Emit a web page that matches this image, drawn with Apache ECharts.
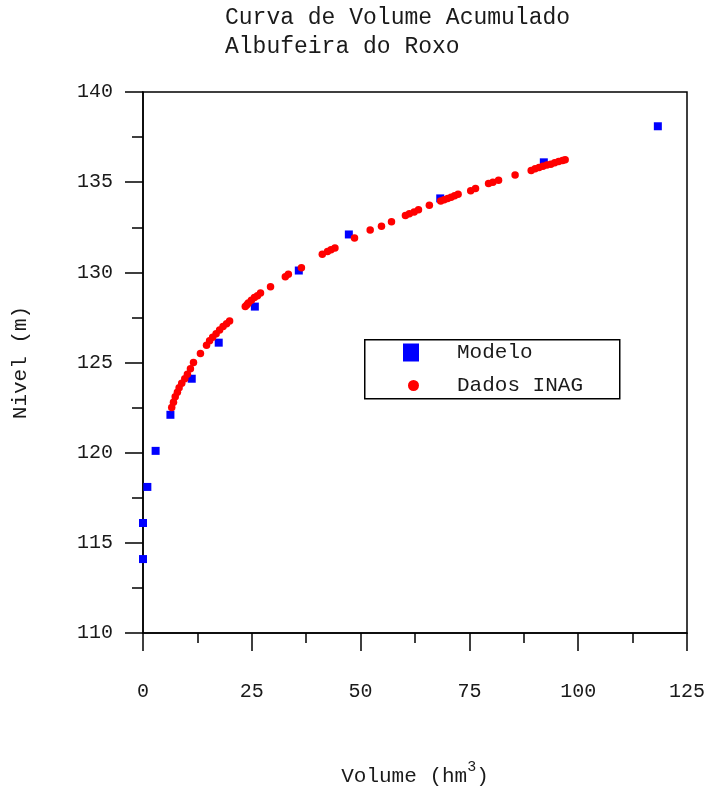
<!DOCTYPE html>
<html>
<head>
<meta charset="utf-8">
<script src="https://cdn.jsdelivr.net/npm/echarts@6/dist/echarts.min.js"></script>
<style>
html,body{margin:0;padding:0;background:#fff;}
#c{width:711px;height:792px;}
</style>
</head>
<body>
<div id="c"></div>
<script>
const titleLines = ['Curva de Volume Acumulado', 'Albufeira do Roxo'];
const xTicks = [0, 25, 50, 75, 100, 125];
const yTicks = [110, 115, 120, 125, 130, 135, 140];

const modeloVolume = [0, 0, 1.0, 2.9, 6.3, 11.2, 17.4, 25.7, 35.8, 47.3, 68.3, 92.1, 118.3];
const modeloNivel  = [114.1, 116.1, 118.1, 120.1, 122.1, 124.1, 126.1, 128.1, 130.1, 132.1, 134.1, 136.1, 138.1];

const inagVolume = [6.6, 7.0, 7.4, 7.9, 8.3, 8.9, 9.6, 10.2, 10.9, 11.6, 13.2, 14.6, 15.3, 16.0, 16.8, 17.6, 18.4, 19.2, 19.9,
  23.5, 23.9, 24.2, 24.9, 25.6, 26.3, 27.0, 29.3, 32.7, 33.4, 36.4, 41.2, 42.4, 43.2, 44.1, 48.6, 52.2, 54.8, 57.1,
  60.3, 61.2, 62.3, 63.3, 65.8, 68.4, 69.2, 70.0, 70.8, 71.6, 72.4, 75.3, 76.4, 79.4, 80.4, 81.7, 85.5,
  89.2, 90.1, 91.0, 91.9, 92.8, 93.7, 94.6, 95.5, 96.4, 97.0];
const inagNivel = [122.5, 122.8, 123.1, 123.35, 123.6, 123.85, 124.1, 124.35, 124.65, 125.0, 125.5, 125.95, 126.2, 126.4, 126.6, 126.8, 127.0, 127.15, 127.3,
  128.1, 128.2, 128.3, 128.45, 128.6, 128.7, 128.85, 129.2, 129.75, 129.9, 130.25, 131.0, 131.15, 131.25, 131.35, 131.9, 132.35, 132.55, 132.8,
  133.15, 133.25, 133.35, 133.47, 133.72, 133.95, 134.02, 134.1, 134.17, 134.25, 134.33, 134.53, 134.65, 134.92, 135.0, 135.1, 135.4,
  135.65, 135.74, 135.82, 135.88, 135.95, 136.0, 136.08, 136.14, 136.2, 136.25];

const seriesNames = ['Modelo', 'Dados INAG'];
const xName = 'Volume (hm{s|3})';
const yName = 'Nivel (m)';

const FONT = 'Liberation Mono';
const TXT = '#1a1a1a';

const chart = echarts.init(document.getElementById('c'), null, {renderer: 'canvas'});
chart.setOption({
  backgroundColor: '#fff',
  animation: false,
  title: {
    text: titleLines.join('\n'),
    left: 225, top: 3, padding: 0,
    textStyle: {fontFamily: FONT, fontSize: 23, fontWeight: 'normal', color: TXT, lineHeight: 29}
  },
  grid: {left: 143, right: 24, top: 92, bottom: 158, show: true, borderColor: '#000', borderWidth: 1.5, backgroundColor: 'transparent'},
  xAxis: {
    type: 'value', min: xTicks[0], max: xTicks[xTicks.length - 1], interval: 25,
    name: xName, nameLocation: 'middle', nameGap: 127,
    nameTextStyle: {fontFamily: FONT, fontSize: 21, color: TXT, rich: {s: {fontFamily: FONT, fontSize: 15, color: TXT, padding: [0, 0, 18, 0]}}},
    axisLine: {show: true, lineStyle: {color: '#000', width: 1.5}},
    axisTick: {show: true, inside: false, length: 18, lineStyle: {color: '#000', width: 1.5}},
    minorTick: {show: true, splitNumber: 2, length: 10, lineStyle: {color: '#000', width: 1.5}},
    splitLine: {show: false},
    axisLabel: {margin: 49, fontFamily: FONT, fontSize: 20, color: TXT}
  },
  yAxis: {
    type: 'value', min: yTicks[0], max: yTicks[yTicks.length - 1], interval: 5,
    name: yName, nameLocation: 'middle', nameGap: 112, nameRotate: 90,
    nameTextStyle: {fontFamily: FONT, fontSize: 21, color: TXT},
    axisLine: {show: true, lineStyle: {color: '#000', width: 1.5}},
    axisTick: {show: true, inside: false, length: 18, lineStyle: {color: '#000', width: 1.5}},
    minorTick: {show: true, splitNumber: 2, length: 11, lineStyle: {color: '#000', width: 1.5}},
    splitLine: {show: false},
    axisLabel: {margin: 30, fontFamily: FONT, fontSize: 20, color: TXT}
  },
  legend: [
    {
      data: [seriesNames[0]], left: 403, top: 342, padding: 0,
      itemWidth: 16, itemHeight: 18, icon: 'rect',
      textStyle: {fontFamily: FONT, fontSize: 21, color: TXT, padding: [0, 0, 0, 33]}
    },
    {
      data: [seriesNames[1]], left: 408, top: 375, padding: 0,
      itemWidth: 11, itemHeight: 11, icon: 'circle',
      textStyle: {fontFamily: FONT, fontSize: 21, color: TXT, padding: [0, 0, 0, 33]}
    }
  ],
  graphic: [{
    type: 'rect', left: 364, top: 339, z: 100,
    shape: {width: 255, height: 59},
    style: {fill: 'transparent', stroke: '#000', lineWidth: 1.5}
  }],
  series: [
    {
      name: seriesNames[0], type: 'scatter', symbol: 'rect', symbolSize: 8, clip: true,
      itemStyle: {color: '#0000ff', opacity: 1},
      data: modeloVolume.map((v, i) => [v, modeloNivel[i]])
    },
    {
      name: seriesNames[1], type: 'scatter', symbol: 'circle', symbolSize: 7.5, clip: true,
      itemStyle: {color: '#ff0000', opacity: 1},
      data: inagVolume.map((v, i) => [v, inagNivel[i]])
    }
  ]
});
</script>
</body>
</html>
